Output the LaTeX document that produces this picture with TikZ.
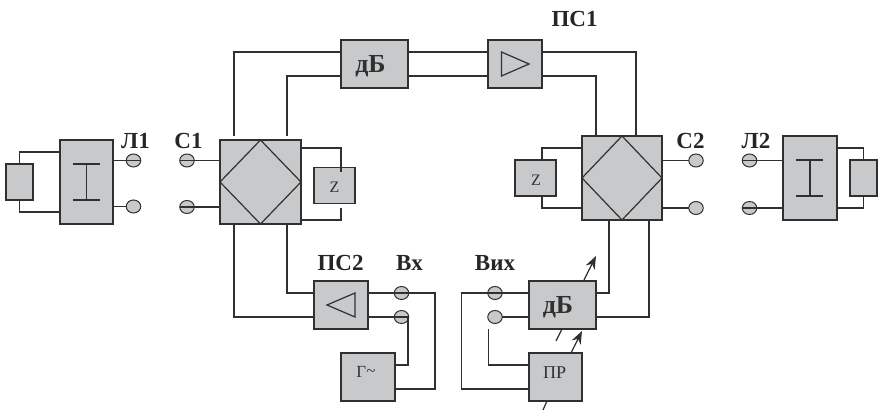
\documentclass[tikz,border=0pt]{standalone}
\usepackage{fontspec}
\setmainfont{Liberation Serif}
\usetikzlibrary{shapes.geometric,arrows.meta}
\definecolor{boxgray}{HTML}{C8C9CB}
\definecolor{ink}{HTML}{303030}
\tikzset{
  blk/.style={draw=ink,fill=boxgray,line width=1.3pt,inner sep=0pt,outer sep=0pt},
  term/.style={ellipse,draw=ink,fill=boxgray,line width=1pt,minimum width=14.5pt,minimum height=13pt,inner sep=0pt,outer sep=0pt},
  wire/.style={draw=ink,line width=1.2pt},
  sym/.style={draw=ink,line width=1.2pt,line join=miter},
  lab/.style={font=\bfseries\fontsize{23}{23}\selectfont,text=black!85,inner sep=0pt},
  big/.style={font=\bfseries\fontsize{26}{26}\selectfont,text=ink,inner sep=0pt},
  small/.style={font=\fontsize{16}{16}\selectfont,text=ink,inner sep=0pt},
  ctrl/.style={draw=ink,line width=1.2pt,-{Stealth[length=13pt,width=10pt]}},
}
\newcommand{\blkat}[4]{\node[blk,minimum width=#3pt,minimum height=#4pt] (#1) at (#2) {};}
\begin{document}
\begin{tikzpicture}[x=1pt,y=-1pt]
\useasboundingbox (0,0) rectangle (880,411);
% terminals
\node[term] (l1a) at (133.5,160.5) {};
\node[term] (l1b) at (133.5,206.5) {};
\node[term] (c1a) at (187,160.5) {};
\node[term] (c1b) at (187,207) {};
\node[term] (c2a) at (696,160.5) {};
\node[term] (c2b) at (696,208) {};
\node[term] (l2a) at (749.5,160.5) {};
\node[term] (l2b) at (749.5,208) {};
\node[term] (vxa) at (401.5,293) {};
\node[term] (vxb) at (401.5,317) {};
\node[term] (via) at (495,293) {};
\node[term] (vib) at (495,317) {};
% blocks
\blkat{loadl}{19.5,182}{27}{36}
\blkat{trl}{86.5,182}{53}{84}
\blkat{mixl}{260.5,182}{81}{84}
\blkat{zl}{334.5,185.5}{41}{36}
\blkat{dbt}{374.5,64}{67}{48}
\blkat{pst}{515,64}{54}{48}
\blkat{mixr}{622,178}{80}{84}
\blkat{zr}{535.5,178}{41}{36}
\blkat{trr}{810,178}{54}{84}
\blkat{loadr}{863.5,178}{27}{36}
\blkat{psb}{341,305}{54}{48}
\blkat{gen}{368,377}{54}{48}
\blkat{dbb}{562.5,305}{67}{48}
\blkat{pr}{555.5,377}{53}{48}
% block texts
\node[small] (zlt) at (334.5,187) {Z};
\node[small] (zrt) at (536,180) {Z};
\node[big] (dbtt) at (370.5,66) {дБ};
\node[big] (dbbt) at (558,307) {дБ};
\node[small,font=\fontsize{18}{18}\selectfont] (prt) at (554.7,372.5) {ПР};
\node[small,font=\fontsize{17}{17}\selectfont] (gent) at (366,372) {Г\raisebox{1pt}{\textasciitilde}};
% symbols inside blocks
\draw[sym] (mixl.north) -- (mixl.east) -- (mixl.south) -- (mixl.west) -- cycle;
\draw[sym] (mixr.north) -- (mixr.east) -- (mixr.south) -- (mixr.west) -- cycle;
\draw[sym] (73,164) -- (100,164) (86.5,164) -- (86.5,200) (73,200) -- (100,200);
\draw[sym] (796,160) -- (823,160) (810,160) -- (810,196) (796,196) -- (823,196);
\draw[sym] (501.5,52) -- (529,64) -- (501.5,76) -- cycle;
\draw[sym] (355,293) -- (327,305) -- (355,317) -- cycle;
% named wire ends
\coordinate (mlt1) at (234,136);
\coordinate (mlt2) at (287,136);
\coordinate (dbt1) at (dbt.west |- 0,52);
\coordinate (dbt2) at (dbt.west |- 0,76);
\coordinate (dbt3) at (dbt.east |- 0,52);
\coordinate (dbt4) at (dbt.east |- 0,76);
\coordinate (pst1) at (pst.west |- 0,52);
\coordinate (pst2) at (pst.west |- 0,76);
\coordinate (pst3) at (pst.east |- 0,52);
\coordinate (pst4) at (pst.east |- 0,76);
\coordinate (mrt1) at (596,136);
\coordinate (mrt2) at (636,136);
% load and line stubs
\draw[wire] (trl.west |- 0,152) -- (19.5,152) -- (loadl.north);
\draw[wire] (trl.west |- 0,212) -- (19.5,212) -- (loadl.south);
\draw[wire] (trl.east |- l1a) -- (l1a.east);
\draw[wire] (trl.east |- l1b) -- (l1b.west);
\draw[wire] (c1a.west) -- (mixl.west |- c1a);
\draw[wire] (c1b.west) -- (mixl.west |- c1b);
\draw[wire] (mixr.east |- c2a) -- (c2a.west);
\draw[wire] (mixr.east |- c2b) -- (c2b.west);
\draw[wire] (l2a.west) -- (trr.west |- l2a);
\draw[wire] (l2b.west) -- (trr.west |- l2b);
\draw[wire] (trr.east |- 0,148) -- (863.5,148) -- (loadr.north);
\draw[wire] (trr.east |- 0,208) -- (863.5,208) -- (loadr.south);
% top ring
\draw[wire] (mlt1) |- (dbt1);
\draw[wire] (mlt2) |- (dbt2);
\draw[wire] (dbt3) -- (pst1);
\draw[wire] (dbt4) -- (pst2);
\draw[wire] (pst3) -| (mrt2);
\draw[wire] (pst4) -| (mrt1);
% terminations
\coordinate (zltp) at (341,172);
\coordinate (zlbp) at (341,208);
\coordinate (zrtp) at (542,160);
\coordinate (zrbp) at (542,196);
\draw[wire] (mixl.east |- 0,148) -| (zltp);
\draw[wire] (mixl.east |- 0,220) -| (zlbp);
\draw[wire] (mixr.west |- 0,148) -| (zrtp);
\draw[wire] (mixr.west |- 0,208) -| (zrbp);
% lower left
\coordinate (mlb1) at (234,224);
\coordinate (mlb2) at (287,224);
\draw[wire] (mlb1) |- (psb.west |- 0,317);
\draw[wire] (mlb2) |- (psb.west |- 0,293);
\draw[wire] (psb.east |- vxa) -- (435,293) -- (435,389) -- (gen.east |- 0,389);
\draw[wire] (psb.east |- vxb) -- (vxb.east) -- (408,317) -- (408,365) -- (gen.east |- 0,365);
% lower right
\coordinate (mrb1) at (609,220);
\coordinate (mrb2) at (649,220);
\draw[wire] (mrb1) |- (dbb.east |- 0,293);
\draw[wire] (mrb2) |- (dbb.east |- 0,317);
\draw[wire] (dbb.west |- via) -- (461.5,293) -- (461.5,389) -- (pr.west |- 0,389);
\draw[wire] (dbb.west |- vib) -- (vib.east);
\draw[wire] (488.5,329) |- (pr.west |- 0,365);
% control arrows
\coordinate (a1s) at (584,280);
\coordinate (a1e) at (596,256);
\draw[ctrl] (a1s) -- (a1e);
\coordinate (a2s) at (571,353);
\coordinate (a2e) at (582,331);
\draw[ctrl] (a2s) -- (a2e);
\coordinate (t1s) at (562,329);
\coordinate (t1e) at (556,341);
\draw[wire] (t1s) -- (t1e);
\coordinate (t2s) at (547,401);
\coordinate (t2e) at (543,410);
\draw[wire] (t2s) -- (t2e);
% labels
\node[lab] (tl1) at (135.5,141) {Л1};
\node[lab] (tc1) at (188.5,141) {С1};
\node[lab] (tc2) at (690.5,141) {С2};
\node[lab] (tl2) at (756,141) {Л2};
\node[lab] (tp1) at (574.5,19) {ПС1};
\node[lab] (tp2) at (340.5,263) {ПС2};
\node[lab] (tvx) at (409.5,263) {Вх};
\node[lab] (tvi) at (495,263) {Вих};
\end{tikzpicture}
\end{document}
